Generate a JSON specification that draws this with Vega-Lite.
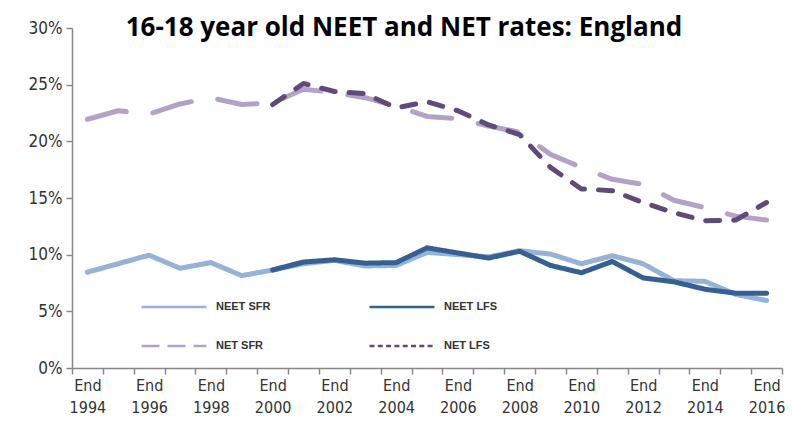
{
  "$schema": "https://vega.github.io/schema/vega-lite/v6.json",
  "autosize": "none",
  "width": 710,
  "height": 340,
  "padding": {"left": 72, "top": 28, "right": 10, "bottom": 55},
  "background": "white",
  "title": {
    "text": "16-18 year old NEET and NET rates: England",
    "font": "Open Sans, Lato, sans-serif",
    "fontSize": 26,
    "fontWeight": "bold",
    "color": "#000000",
    "anchor": "middle",
    "dx": -23,
    "baseline": "alphabetic",
    "offset": 0,
    "dy": 43
  },
  "config": {
    "view": {"stroke": null},
    "axis": {
      "labelFont": "Liberation Sans Narrow, DejaVu Sans Condensed, Arial, sans-serif",
      "labelColor": "#333333",
      "domainColor": "#888888",
      "tickColor": "#888888",
      "domainWidth": 1.5,
      "tickWidth": 1.5
    }
  },
  "data": {
    "values": [
      {"year": 1994, "series": "NEET SFR", "rate": 8.45},
      {"year": 1995, "series": "NEET SFR", "rate": 9.2},
      {"year": 1996, "series": "NEET SFR", "rate": 9.95},
      {"year": 1997, "series": "NEET SFR", "rate": 8.8},
      {"year": 1998, "series": "NEET SFR", "rate": 9.3},
      {"year": 1999, "series": "NEET SFR", "rate": 8.15},
      {"year": 2000, "series": "NEET SFR", "rate": 8.65},
      {"year": 2001, "series": "NEET SFR", "rate": 9.2},
      {"year": 2002, "series": "NEET SFR", "rate": 9.5},
      {"year": 2003, "series": "NEET SFR", "rate": 9.0},
      {"year": 2004, "series": "NEET SFR", "rate": 9.05},
      {"year": 2005, "series": "NEET SFR", "rate": 10.2},
      {"year": 2006, "series": "NEET SFR", "rate": 10.0},
      {"year": 2007, "series": "NEET SFR", "rate": 9.8},
      {"year": 2008, "series": "NEET SFR", "rate": 10.35},
      {"year": 2009, "series": "NEET SFR", "rate": 10.05},
      {"year": 2010, "series": "NEET SFR", "rate": 9.2},
      {"year": 2011, "series": "NEET SFR", "rate": 9.9},
      {"year": 2012, "series": "NEET SFR", "rate": 9.2},
      {"year": 2013, "series": "NEET SFR", "rate": 7.7},
      {"year": 2014, "series": "NEET SFR", "rate": 7.65},
      {"year": 2015, "series": "NEET SFR", "rate": 6.5},
      {"year": 2016, "series": "NEET SFR", "rate": 5.95},
      {"year": 1994, "series": "NET SFR", "rate": 21.95},
      {"year": 1995, "series": "NET SFR", "rate": 22.7},
      {"year": 1996, "series": "NET SFR", "rate": 22.4},
      {"year": 1997, "series": "NET SFR", "rate": 23.3},
      {"year": 1998, "series": "NET SFR", "rate": 23.85},
      {"year": 1999, "series": "NET SFR", "rate": 23.25},
      {"year": 2000, "series": "NET SFR", "rate": 23.4},
      {"year": 2001, "series": "NET SFR", "rate": 24.6},
      {"year": 2002, "series": "NET SFR", "rate": 24.3},
      {"year": 2003, "series": "NET SFR", "rate": 23.85},
      {"year": 2004, "series": "NET SFR", "rate": 23.1},
      {"year": 2005, "series": "NET SFR", "rate": 22.2},
      {"year": 2006, "series": "NET SFR", "rate": 22.0},
      {"year": 2007, "series": "NET SFR", "rate": 21.35},
      {"year": 2008, "series": "NET SFR", "rate": 20.8},
      {"year": 2009, "series": "NET SFR", "rate": 18.85},
      {"year": 2010, "series": "NET SFR", "rate": 17.7},
      {"year": 2011, "series": "NET SFR", "rate": 16.65},
      {"year": 2012, "series": "NET SFR", "rate": 16.2},
      {"year": 2013, "series": "NET SFR", "rate": 14.8},
      {"year": 2014, "series": "NET SFR", "rate": 14.15},
      {"year": 2015, "series": "NET SFR", "rate": 13.4},
      {"year": 2016, "series": "NET SFR", "rate": 13.05},
      {"year": 2000, "series": "NEET LFS", "rate": 8.65},
      {"year": 2001, "series": "NEET LFS", "rate": 9.35},
      {"year": 2002, "series": "NEET LFS", "rate": 9.55},
      {"year": 2003, "series": "NEET LFS", "rate": 9.25},
      {"year": 2004, "series": "NEET LFS", "rate": 9.3},
      {"year": 2005, "series": "NEET LFS", "rate": 10.6},
      {"year": 2006, "series": "NEET LFS", "rate": 10.15},
      {"year": 2007, "series": "NEET LFS", "rate": 9.7},
      {"year": 2008, "series": "NEET LFS", "rate": 10.3},
      {"year": 2009, "series": "NEET LFS", "rate": 9.05},
      {"year": 2010, "series": "NEET LFS", "rate": 8.4},
      {"year": 2011, "series": "NEET LFS", "rate": 9.4},
      {"year": 2012, "series": "NEET LFS", "rate": 7.95},
      {"year": 2013, "series": "NEET LFS", "rate": 7.6},
      {"year": 2014, "series": "NEET LFS", "rate": 6.95},
      {"year": 2015, "series": "NEET LFS", "rate": 6.6},
      {"year": 2016, "series": "NEET LFS", "rate": 6.6},
      {"year": 2000, "series": "NET LFS", "rate": 23.25},
      {"year": 2001, "series": "NET LFS", "rate": 25.1},
      {"year": 2002, "series": "NET LFS", "rate": 24.4},
      {"year": 2003, "series": "NET LFS", "rate": 24.2},
      {"year": 2004, "series": "NET LFS", "rate": 22.95},
      {"year": 2005, "series": "NET LFS", "rate": 23.5},
      {"year": 2006, "series": "NET LFS", "rate": 22.7},
      {"year": 2007, "series": "NET LFS", "rate": 21.45},
      {"year": 2008, "series": "NET LFS", "rate": 20.6},
      {"year": 2009, "series": "NET LFS", "rate": 17.7},
      {"year": 2010, "series": "NET LFS", "rate": 15.8},
      {"year": 2011, "series": "NET LFS", "rate": 15.65},
      {"year": 2012, "series": "NET LFS", "rate": 14.6},
      {"year": 2013, "series": "NET LFS", "rate": 13.7},
      {"year": 2014, "series": "NET LFS", "rate": 13.0},
      {"year": 2015, "series": "NET LFS", "rate": 13.05},
      {"year": 2016, "series": "NET LFS", "rate": 14.6}
    ]
  },
  "encoding": {
    "x": {
      "field": "year",
      "type": "ordinal",
      "scale": {"type": "band", "paddingInner": 0, "paddingOuter": 0},
      "axis": {
        "title": null,
        "labelAngle": 0,
        "tickBand": "extent",
        "tickSize": 6,
        "labelOverlap": false,
        "labelFontSize": 16,
        "labelLineHeight": 22,
        "labelPadding": 3,
        "labelExpr": "datum.value % 2 == 0 ? ['End', '' + datum.value] : ''"
      }
    },
    "y": {
      "field": "rate",
      "type": "quantitative",
      "scale": {"domain": [0, 30], "nice": false},
      "axis": {
        "title": null,
        "grid": false,
        "values": [0, 5, 10, 15, 20, 25, 30],
        "tickSize": 6,
        "labelFontSize": 17,
        "labelPadding": 4,
        "labelExpr": "datum.value + '%'"
      }
    },
    "order": {"field": "year", "type": "quantitative"}
  },
  "layer": [
    {
      "mark": {"type": "line", "strokeWidth": 5, "strokeCap": "round", "strokeJoin": "round"},
      "encoding": {
        "color": {
          "field": "series",
          "type": "nominal",
          "legend": null,
          "scale": {
            "domain": ["NEET SFR", "NEET LFS", "NET SFR", "NET LFS"],
            "range": ["#95B3D7", "#376092", "#B3A2C7", "#604A7B"]
          }
        },
        "strokeDash": {
          "field": "series",
          "type": "nominal",
          "legend": null,
          "scale": {
            "domain": ["NEET SFR", "NEET LFS", "NET SFR", "NET LFS"],
            "range": [[1, 0], [1, 0], [40, 27], [14, 14]]
          }
        }
      }
    },
    {
      "transform": [{"filter": "false"}],
      "mark": {"type": "line", "strokeWidth": 2.5, "strokeCap": "butt"},
      "encoding": {
        "color": {
          "field": "series",
          "type": "nominal",
          "scale": {
            "domain": ["NEET SFR", "NEET LFS", "NET SFR", "NET LFS"],
            "range": ["#95B3D7", "#376092", "#B3A2C7", "#604A7B"]
          },
          "legend": {
            "title": null,
            "orient": "none",
            "legendX": 68,
            "legendY": 245,
            "columns": 2,
            "direction": "horizontal",
            "columnPadding": 93,
            "rowPadding": -32,
            "padding": 0,
            "symbolType": "stroke",
            "symbolSize": 4225,
            "symbolStrokeWidth": 2.5,
            "labelFont": "Liberation Sans, Arial, sans-serif",
            "labelFontSize": 11,
            "labelFontWeight": "bold",
            "labelColor": "#333333",
            "labelOffset": 8
          }
        },
        "strokeDash": {
          "field": "series",
          "type": "nominal",
          "scale": {
            "domain": ["NEET SFR", "NEET LFS", "NET SFR", "NET LFS"],
            "range": [[1, 0], [1, 0], [18, 8], [5, 3.3]]
          }
        }
      }
    }
  ],
  "resolve": {"scale": {"strokeDash": "independent", "color": "independent"}}
}
